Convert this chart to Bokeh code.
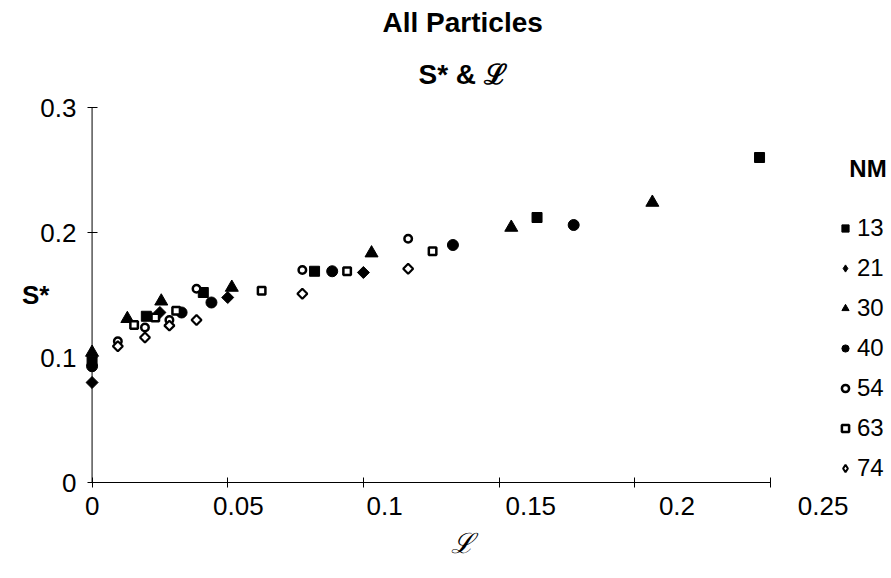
import numpy as np
from bokeh.plotting import figure
from bokeh.models import (Range1d, LinearAxis, FixedTicker, Legend, LegendItem,
                          Span, Title, ColumnDataSource)
from bokeh.embed import file_html
from bokeh.resources import INLINE

# ---------------- data ----------------
X_TICKS = [0, 0.05, 0.1, 0.15, 0.2, 0.25]
X_TICK_LABELS = ["0", "0.05", "0.1", "0.15", "0.2", "0.25"]
Y_TICKS = [0, 0.1, 0.2, 0.3]
Y_TICK_LABELS = ["0", "0.1", "0.2", "0.3"]

NM = ["13", "21", "30", "40", "54", "63", "74"]

L_13 = [0, 0.020, 0.041, 0.082, 0.164, 0.246]
S_13 = [0.097, 0.133, 0.152, 0.169, 0.212, 0.260]
L_21 = [0, 0.025, 0.050, 0.100]
S_21 = [0.080, 0.136, 0.148, 0.168]
L_30 = [0, 0.013, 0.0255, 0.0515, 0.103, 0.1545, 0.2065]
S_30 = [0.104, 0.131, 0.145, 0.156, 0.1835, 0.204, 0.224]
L_40 = [0, 0.033, 0.044, 0.0885, 0.133, 0.1775]
S_40 = [0.093, 0.136, 0.144, 0.169, 0.190, 0.206]
L_54 = [0.0095, 0.0195, 0.0285, 0.0385, 0.0775, 0.1165]
S_54 = [0.113, 0.124, 0.130, 0.155, 0.170, 0.195]
L_63 = [0.0155, 0.0233, 0.031, 0.0625, 0.094, 0.1255]
S_63 = [0.126, 0.132, 0.1375, 0.1535, 0.169, 0.185]
L_74 = [0.0095, 0.0195, 0.0285, 0.0385, 0.0775, 0.1165]
S_74 = [0.109, 0.116, 0.1255, 0.130, 0.151, 0.171]

DIAG = 0.7853981634  # squares turned 45 degrees = diamonds
SOLID = dict(fill_color="black", line_color="black", line_width=1)
HOLLOW = dict(fill_color="white", line_color="black")
# (x, y, plot style, legend-symbol style when it differs)
SERIES = [
    (L_13, S_13, dict(marker="square", size=10, **SOLID), None),
    (L_21, S_21, dict(marker="square", angle=DIAG, size=8.5, **SOLID),
     dict(marker="diamond", **SOLID)),
    (L_30, S_30, dict(marker="triangle", size=13, **SOLID), None),
    (L_40, S_40, dict(marker="circle", size=11, **SOLID), None),
    (L_54, S_54, dict(marker="circle", size=7.5, line_width=2.5, **HOLLOW), None),
    (L_63, S_63, dict(marker="square", size=7.5, line_width=2.5, **HOLLOW), None),
    (L_74, S_74, dict(marker="square", angle=DIAG, size=7, line_width=2.2, **HOLLOW),
     dict(marker="diamond", line_width=2, **HOLLOW)),
]

FONT = "Liberation Sans"

p = figure(width=891, height=578, output_backend="svg", toolbar_location=None,
           x_range=Range1d(-0.005, 0.2939), y_range=Range1d(0, 0.3),
           min_border_left=78, min_border_right=2, min_border_top=107,
           min_border_bottom=96)
p.outline_line_color = None
p.xgrid.visible = False
p.ygrid.visible = False
p.background_fill_color = "white"
p.border_fill_color = "white"

# titles (centred over the 0 .. 0.25 axis span)
p.title.text = "All Particles"
p.title.text_font = FONT
p.title.text_font_size = "28px"
p.title.text_font_style = "bold"
p.title.text_color = "black"
p.title.align = "left"
p.title.offset = 304
p.title.standoff = 2
sub = Title(text="S* & \u2112", text_font=FONT, text_font_size="28px",
            text_font_style="bold", text_color="black", align="left", offset=340,
            standoff=36)
p.add_layout(sub, "above")

# y axis (its line drawn as a span at L = 0)
yax = p.yaxis[0]
yax.ticker = FixedTicker(ticks=Y_TICKS)
yax.major_label_overrides = {t: s for t, s in zip(Y_TICKS, Y_TICK_LABELS)}
yax.axis_line_color = None
yax.major_tick_line_color = "black"
yax.major_tick_in = 19
yax.major_tick_out = -9
yax.minor_tick_line_color = None
yax.minor_tick_in = 0
yax.minor_tick_out = 0
yax.major_label_standoff = 2
yax.major_label_text_font = FONT
yax.major_label_text_font_size = "26px"
yax.major_label_text_color = "black"
yax.axis_label = "S*"
yax.axis_label_text_font = FONT
yax.axis_label_text_font_size = "26px"
yax.axis_label_text_font_style = "bold"
yax.axis_label_text_color = "black"
yax.axis_label_standoff = -12
try:
    yax.axis_label_orientation = "horizontal"
except Exception:
    yax.axis_label_standoff = 4
p.add_layout(Span(location=0, dimension="height", line_color="black", line_width=1))

# x axis: line and ticks
xax = p.xaxis[0]
xax.ticker = FixedTicker(ticks=X_TICKS)
xax.bounds = (0, 0.25)
xax.axis_line_color = "black"
xax.major_tick_line_color = "black"
xax.major_tick_in = 5
xax.major_tick_out = 5
xax.minor_tick_line_color = None
xax.minor_tick_in = 0
xax.minor_tick_out = 0
xax.major_label_standoff = 0
xax.major_label_text_font_size = "1px"
xax.major_label_text_alpha = 0

# x axis: tick labels
p.extra_x_ranges = {"lab": Range1d(-0.0047, 0.2727)}
lab = LinearAxis(x_range_name="lab", ticker=FixedTicker(ticks=X_TICKS), bounds=(0, 0.25),
                 axis_line_color=None, major_tick_line_color=None, minor_tick_line_color=None,
                 major_tick_in=0, major_tick_out=0, minor_tick_in=0, minor_tick_out=0,
                 major_label_standoff=9,
                 major_label_overrides={t: s for t, s in zip(X_TICKS, X_TICK_LABELS)},
                 major_label_text_font=FONT, major_label_text_font_size="26px",
                 major_label_text_color="black")
p.add_layout(lab, "below")

# x axis title, centred under the axis span
xtitle = Title(text="\u2112", text_font="DejaVu Serif", text_font_size="28px",
               text_font_style="italic", text_color="black", align="left", offset=372,
               standoff=14)
p.add_layout(xtitle, "below")

# data
items = []
for name, (xs, ys, style, leg_style) in zip(NM, SERIES):
    r = p.scatter(xs, ys, **style)
    if leg_style is not None:
        # renderer with no drawable point, only used for the legend symbol
        r = p.scatter(x="x", y="y",
                      source=ColumnDataSource(data=dict(x=np.array([np.nan]), y=np.array([np.nan]))),
                      size=8, **leg_style)
    items.append(LegendItem(label=name, renderers=[r]))

legend = Legend(items=items, location=(758, 0), orientation="vertical",
                title="\u00a0\u00a0NM", title_text_font=FONT, title_text_font_size="24px",
                title_text_font_style="bold", title_text_color="black", title_standoff=31,
                glyph_width=18, glyph_height=18, label_standoff=3, label_height=28,
                spacing=12, padding=0, margin=0, border_line_color=None,
                background_fill_alpha=0, label_text_font=FONT,
                label_text_font_size="24px", label_text_color="black")
p.add_layout(legend)

open("out.html", "w").write(file_html(p, INLINE))
